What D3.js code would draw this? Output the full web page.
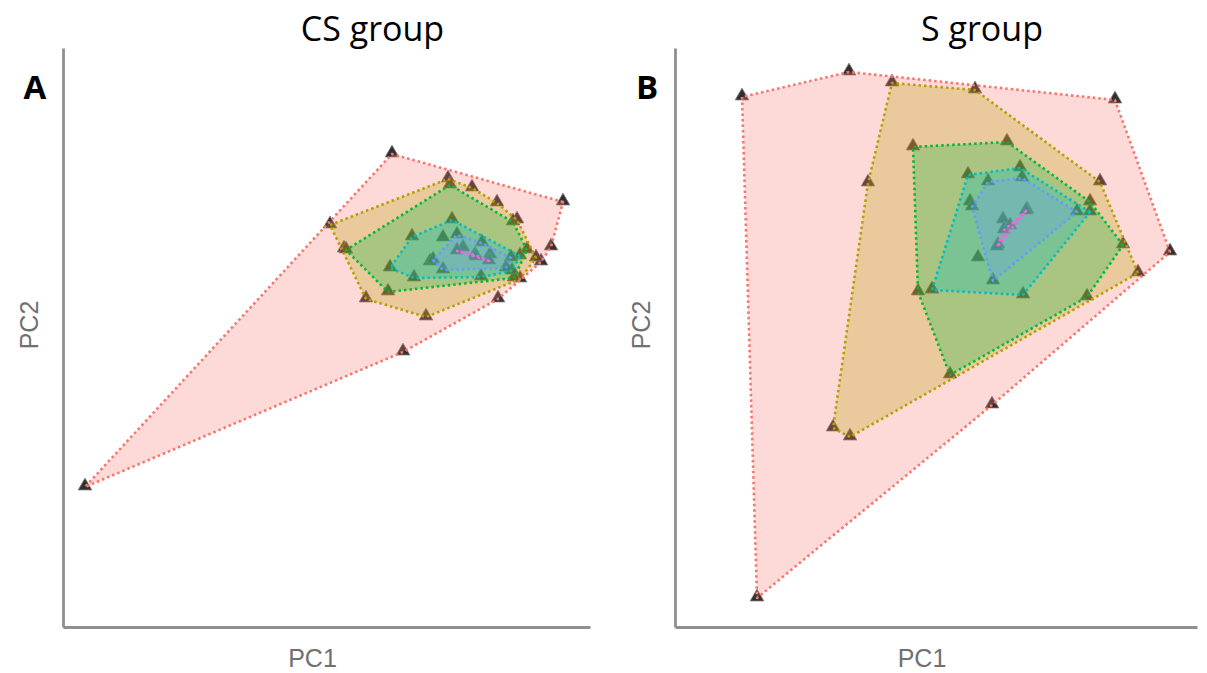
<!doctype html>
<html>
	<head>
		<meta charset="utf-8">
		<style type="text/css">
			body { margin: 0; background: #fff; }
			text { font-family: "Open Sans", sans-serif; }
			.axlab { font-family: "Liberation Sans", Arial, sans-serif; fill: #707070; font-size: 25px; }
		</style>
		<script src="https://d3js.org/d3.v7.min.js"></script>
	</head>
	<body>
		<svg width="1207" height="673"></svg>
		<script type="text/javascript">

			// hull-peeling layers, outermost first (PC1, PC2 in arbitrary units)
			var layerColors = ["#F8766D", "#B79F00", "#00BA38", "#00BFC4", "#619CFF", "#F564E3"];

			// CS group
			var csRed    = [[2.2,14.0],[32.9,47.3],[50.0,42.5],[48.8,38.0],[47.8,36.5],[43.5,32.8],[34.0,27.5]];
			var csOrange = [[26.7,40.2],[38.5,44.8],[40.9,43.9],[43.4,42.4],[45.4,40.7],[47.3,36.9],[45.7,34.8],[36.3,31.0],[30.3,32.8],[28.1,37.8]];
			var csGreen  = [[28.3,37.7],[38.7,44.2],[45.0,40.5],[46.4,37.7],[45.1,34.9],[32.5,33.5]];
			var csCyan   = [[32.7,35.9],[34.9,39.0],[38.9,40.7],[45.7,37.1],[44.9,35.6],[41.8,35.0],[35.1,34.9],[38.0,38.9],[36.7,36.5]];
			var csBlue   = [[37.0,36.7],[39.4,39.2],[41.9,38.4],[44.8,36.9],[44.3,35.9],[38.0,35.7],[42.7,37.2],[40.0,37.9]];
			var csPink   = [[39.4,37.6],[41.2,37.2],[42.6,36.6],[41.3,37.0]];

			// S group
			var sRed    = [[6.7,53.0],[17.4,55.5],[44.0,52.7],[49.5,37.5],[31.7,22.2],[8.2,2.9]];
			var sOrange = [[21.7,54.4],[30.0,53.7],[42.5,44.5],[46.3,35.4],[17.5,19.0],[15.8,19.9],[19.3,44.4]];
			var sGreen  = [[23.8,48.0],[33.2,48.5],[41.5,42.5],[44.8,38.2],[41.2,33.0],[27.5,25.2],[24.3,33.5],[25.7,33.7]];
			var sCyan   = [[29.3,45.2],[34.5,45.9],[41.5,41.5],[34.8,33.2],[25.7,33.7],[30.3,36.9],[29.5,42.5]];
			var sBlue   = [[29.7,42.0],[31.3,44.5],[34.7,44.9],[40.2,41.5],[31.8,34.6],[32.8,40.7],[32.3,38.2],[35.2,41.7]];
			var sPink   = [[32.2,38.0],[32.9,39.7],[35.1,41.6],[33.5,40.1]];

			var panels = [
				{ letter: "A", title: "CS group", layers: [csRed, csOrange, csGreen, csCyan, csBlue, csPink],
				  xDomain: [0, 52.7], yDomain: [0, 57.9], left: 63, right: 590 },
				{ letter: "B", title: "S group", layers: [sRed, sOrange, sGreen, sCyan, sBlue, sPink],
				  xDomain: [0, 52.2], yDomain: [0, 57.9], left: 675, right: 1197 }
			];

			var svg = d3.select("svg"),
				plotTop = 48,
				plotBottom = 627;

			var tri = d3.symbol().type(d3.symbolTriangle).size(80);

			panels.forEach(function(p) {
				var x = d3.scaleLinear().domain(p.xDomain).range([p.left, p.right]);
				var y = d3.scaleLinear().domain(p.yDomain).range([plotBottom, plotTop]);
				var g = svg.append("g");

				// points first, hulls drawn over them
				var all = [];
				p.layers.forEach(function(l) { all = all.concat(l); });
				g.append("g")
					.selectAll("path")
						.data(all).enter()
					.append("path")
						.attr("d", tri)
						.attr("transform", (d) => `translate(${x(d[0])}, ${y(d[1]) - 1})`)
						.style("fill", "#303030")
						.style("stroke", "#777")
						.style("stroke-width", 0.8);

				g.append("g")
					.selectAll("path")
						.data(p.layers).enter()
					.append("path")
						.attr("d", (d) => {
							var hull = d3.polygonHull(d.map((q) => [x(q[0]), y(q[1])]));
							return "M" + hull.join("L") + "Z";
						})
						.style("fill", (d, i) => layerColors[i])
						.style("fill-opacity", 0.27)
						.style("stroke", (d, i) => layerColors[i])
						.style("stroke-width", 2.6)
						.style("stroke-dasharray", "2.5,3")
						.style("stroke-linejoin", "round");

				// axes without ticks
				g.append("g")
					.attr("transform", `translate(${p.left},0)`)
					.call(d3.axisLeft(y).tickValues([]).tickSizeOuter(0))
					.select(".domain").style("stroke", "#8f8f8f").style("stroke-width", 2.8);
				g.append("g")
					.attr("transform", `translate(0,${plotBottom})`)
					.call(d3.axisBottom(x).tickValues([]).tickSizeOuter(0))
					.select(".domain").style("stroke", "#8f8f8f").style("stroke-width", 2.8);

				var cx = (p.left + p.right) / 2;
				g.append("text")
					.text(p.title)
					.attr("x", cx + 46)
					.attr("y", 41)
					.style("text-anchor", "middle")
					.style("font-size", "34px");
				g.append("text")
					.text(p.letter)
					.attr("x", p.left - 28)
					.attr("y", 99)
					.style("text-anchor", "middle")
					.style("font-size", "33px")
					.style("font-weight", "bold");
				g.append("text")
					.attr("class", "axlab")
					.text("PC1")
					.attr("x", cx - 14)
					.attr("y", 667)
					.style("text-anchor", "middle");
				g.append("text")
					.attr("class", "axlab")
					.text("PC2")
					.attr("transform", `translate(${p.left - 25},325) rotate(-90)`)
					.style("text-anchor", "middle");
			});
		</script>
	</body>
</html>
